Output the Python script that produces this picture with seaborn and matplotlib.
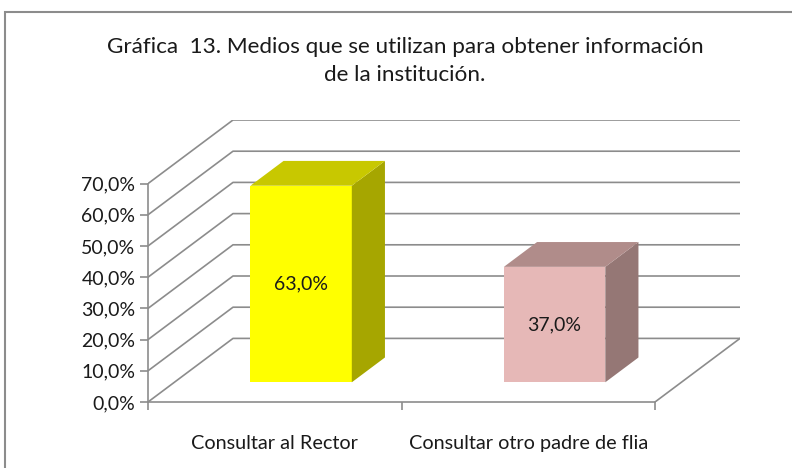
import seaborn as sns
import matplotlib.pyplot as plt
from matplotlib.patches import Polygon, Rectangle

categories = ['Consultar al Rector', 'Consultar otro padre de flia']
values = [0.63, 0.37]
labels = ['63,0%', '37,0%']
front_colors = ['#FFFF00', '#E6B8B7']
top_colors = ['#C8C800', '#B08C8A']
side_colors = ['#A6A600', '#957775']
yticks = [0.0, 0.1, 0.2, 0.3, 0.4, 0.5, 0.6, 0.7]
ytick_labels = ['0,0%', '10,0%', '20,0%', '30,0%', '40,0%', '50,0%', '60,0%', '70,0%']

sns.set_style('white')
plt.rcParams['font.family'] = ['Lato', 'DejaVu Sans']

# depth of the fake 3d box, in data units
D = 85 / 253.5
E = 64 / 314
bar_front = 0.31
bar_back = 0.70
grid_col = '#8C8C8C'
txt_col = '#1a1a1a'

fig = plt.figure(figsize=(7.92, 4.68), dpi=100)
ax = fig.add_axes([148 / 792, 66 / 468, 592 / 792, 282 / 468])
ax.patch.set_alpha(0)

sns.barplot(x=categories, y=values, hue=categories, palette=front_colors,
            width=0.4, legend=False, ax=ax, zorder=3, saturation=1)

ax.set_xlim(-0.5, 1.5 + D)
ax.set_ylim(0, 0.7 + E)

# walls: left diagonals + back horizontal gridlines
for v in yticks:
    ax.plot([-0.5, -0.5 + D, 1.5 + D], [v, v + E, v + E], color=grid_col, lw=1.2, zorder=1)
# floor right edge
ax.plot([1.5, 1.5 + D], [0, E], color=grid_col, lw=1.2, zorder=1)

for i, p in enumerate(ax.patches):
    x0 = p.get_x() + bar_front * D
    y0 = bar_front * E
    w = p.get_width()
    h = p.get_height()
    p.set_x(x0)
    p.set_y(y0)
    p.set_edgecolor('none')
    x1 = x0 + w
    y1 = y0 + h
    bd = bar_back - bar_front
    side = Polygon([(x1, y0), (x1 + bd * D, y0 + bd * E), (x1 + bd * D, y1 + bd * E), (x1, y1)],
                   facecolor=side_colors[i], edgecolor='none', zorder=3)
    top = Polygon([(x0, y1), (x1, y1), (x1 + bd * D, y1 + bd * E), (x0 + bd * D, y1 + bd * E)],
                  facecolor=top_colors[i], edgecolor='none', zorder=3)
    ax.add_patch(side)
    ax.add_patch(top)
    ax.text(x0 + w / 2, y0 + h / 2, labels[i], ha='center', va='center',
            fontsize=14, color=txt_col, zorder=5)

for s in ['top', 'right']:
    ax.spines[s].set_visible(False)
ax.spines['left'].set_bounds(0, 0.7)
ax.spines['left'].set_position(('data', -0.5))
ax.spines['bottom'].set_bounds(-0.5, 1.5)
for s in ['left', 'bottom']:
    ax.spines[s].set_color(grid_col)
    ax.spines[s].set_linewidth(1.2)

ax.set_yticks(yticks)
ax.set_yticklabels(ytick_labels, fontsize=14, color=txt_col)
ax.set_xticks([-0.5, 0.5, 1.5])
ax.set_xticklabels([])
ax.set_xticks([0, 1], minor=True)
ax.set_xticklabels(categories, minor=True, fontsize=14.3, color=txt_col)
ax.tick_params(axis='both', which='major', length=6, width=1.2, color=grid_col, direction='out', left=True, bottom=True)
ax.tick_params(axis='y', pad=3)
ax.tick_params(axis='x', which='minor', length=0, pad=24)
ax.set_xlabel('')
ax.set_ylabel('')

fig.text(405 / 792, 1 - 47 / 468, 'Gráfica  13. Medios que se utilizan para obtener información',
         ha='center', va='center', fontsize=16.2, color=txt_col)
fig.text(405 / 792, 1 - 75 / 468, 'de la institución.',
         ha='center', va='center', fontsize=16.2, color=txt_col)

# chart frame, cut off at right and bottom like the source
fig.patches.append(Rectangle((5 / 792, -0.05), 1.0, 1 - 12 / 468 + 0.05, transform=fig.transFigure,
                             fill=False, edgecolor='#8C8C8C', lw=1.5))

fig.savefig('out.png', dpi=100)
